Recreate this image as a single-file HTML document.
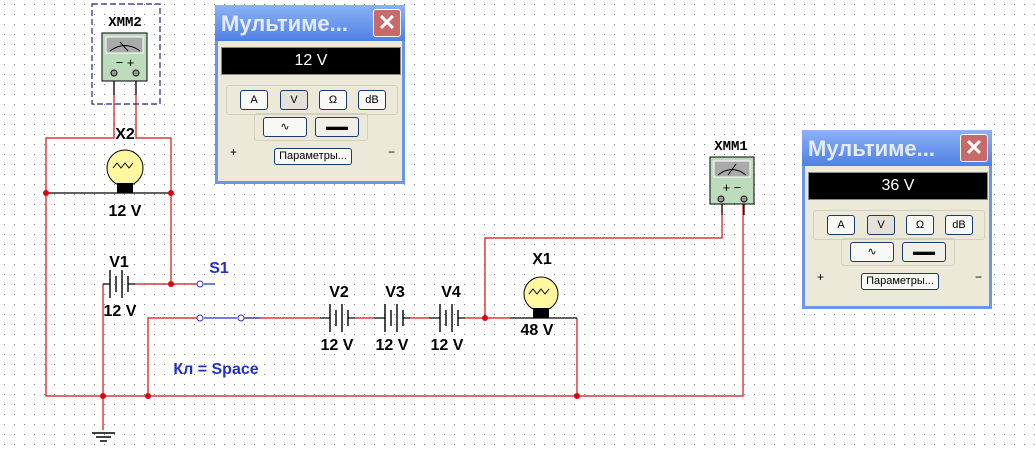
<!DOCTYPE html>
<html><head><meta charset="utf-8"><style>
body{margin:0;width:1035px;height:451px;overflow:hidden;background:#fff;font-family:"Liberation Sans",sans-serif}
svg{position:absolute;left:0;top:0}
.win{position:absolute;width:190px;height:179px;background:#ece9d8;border:3px solid #6b95e8;border-top:none;box-sizing:border-box}
.tb{position:absolute;left:-3px;top:0;width:190px;height:36px;background:linear-gradient(#8cb2f6,#4f80e4);color:#e4ecfc;font:bold 22px "Liberation Sans",sans-serif;padding:6px 0 0 6px;box-sizing:border-box}
.x{position:absolute;right:4px;top:4px;width:26px;height:26px;background:#c86a6a;border:1px solid #fff;border-radius:3px;color:#fff;font:bold 22px sans-serif;text-align:center;line-height:26px}
.disp{position:absolute;left:3px;top:42px;width:178px;height:26px;background:#000;color:#fff;font-size:16px;text-align:center;line-height:26px;border:1px solid #888}
.grp{position:absolute;border:1px solid #d4d0c0;border-radius:3px}
.b{position:absolute;height:18px;border:1px solid #1c3a70;border-radius:3px;background:#f8f8f4;font-size:11px;text-align:center;line-height:18px}
</style></head><body>
<svg width="1035" height="451">
<defs><pattern id="g" width="10" height="10" patternUnits="userSpaceOnUse"><rect x="4" y="4" width="1" height="1" fill="#777"/></pattern></defs>
<rect width="1035" height="451" fill="url(#g)"/>
<g fill="none" stroke-width="1.2">
<rect x="92" y="4" width="68" height="100" stroke="#1c2a80" stroke-dasharray="6,3"/>
<path d="M114 73V138H46V396H743V200 M136 73V138H171V284H200 M171 193V284 M103 284V396V430 M148 396V318H200 M241 318H320 M485 318V238H722V200 M577 318V396 M135 284H171 M355 318H374 M410 318H429 M465 318H510" stroke="#d01010"/>
<path d="M114 73V95 M136 73V95 M722 200V215 M744 200V215 M46 193H171 M510 318H577 M103 284H110 M128 284H135 M320 318H330 M348 318H355 M374 318H385 M403 318H410 M429 318H440 M458 318H465" stroke="#000"/>
<path d="M204 284H215 M204 318H237 M245 318H260" stroke="#2030c0"/>
</g>
<g fill="#fff" stroke="#2030c0"><circle cx="200" cy="284" r="3"/><circle cx="200" cy="318" r="3"/><circle cx="241" cy="318" r="3"/></g>
<g fill="#e00010"><circle cx="46" cy="193" r="3"/><circle cx="171" cy="193" r="3"/><circle cx="171" cy="284" r="3"/><circle cx="103" cy="396" r="3"/><circle cx="148" cy="396" r="3"/><circle cx="485" cy="318" r="3"/><circle cx="577" cy="396" r="3"/></g>
<g stroke="#000" stroke-width="1.4">
<path d="M110 270V298 M116 276V292 M122 270V298 M128 276V292"/>
<path d="M330 304V332 M336 310V326 M342 304V332 M348 310V326"/>
<path d="M385 304V332 M391 310V326 M397 304V332 M403 310V326"/>
<path d="M440 304V332 M446 310V326 M452 304V332 M458 310V326"/>
<path d="M92 433H115 M96 437H111 M100 441H107"/>
</g>
<g><circle cx="125" cy="168" r="18" fill="#fff8a0" stroke="#000"/><rect x="117" y="183" width="16" height="10"/><path d="M113 168l4-5 4 5 4-5 4 5 4-5" fill="none" stroke="#000"/></g>
<g><circle cx="541" cy="294" r="17" fill="#fff8a0" stroke="#000"/><rect x="533" y="308" width="16" height="10"/><path d="M529 294l4-5 4 5 4-5 4 5 4-5" fill="none" stroke="#000"/></g>
<g stroke="#000"><rect x="102" y="33" width="45" height="48" fill="#bcdcbc"/><rect x="106" y="37" width="37" height="16" fill="#aaa" stroke="#fff"/>
<rect x="710" y="157" width="44" height="47" fill="#bcdcbc"/><rect x="714" y="161" width="36" height="16" fill="#aaa" stroke="#fff"/>
<path d="M110 51Q125 40 140 51M120 42L128 51M718 175Q732 164 746 175M728 175L736 164" fill="none"/>
<g fill="#999"><circle cx="114" cy="73" r="3"/><circle cx="136" cy="73" r="3"/><circle cx="721" cy="199" r="3"/><circle cx="744" cy="199" r="3"/></g></g>
<g font-family="Liberation Sans" font-weight="bold" font-size="16" text-anchor="middle">
<text x="125" y="26" font-family="Liberation Mono" font-size="14">XMM2</text>
<text x="731" y="150" font-family="Liberation Mono" font-size="14">XMM1</text>
<text x="125" y="67" font-size="13" font-weight="normal">−  +</text>
<text x="732" y="192" font-size="13" font-weight="normal">+  −</text>
<text x="125" y="139">X2</text><text x="125" y="216">12 V</text>
<text x="119" y="267">V1</text><text x="120" y="316">12 V</text>
<text x="339" y="297">V2</text><text x="395" y="297">V3</text><text x="451" y="297">V4</text>
<text x="337" y="350">12 V</text><text x="392" y="350">12 V</text><text x="447" y="350">12 V</text>
<text x="542" y="264">X1</text><text x="537" y="335">48 V</text>
<text x="219" y="273" fill="#2030c0">S1</text>
<text x="216" y="374" fill="#2030c0">Кл = Space</text>
</g>
</svg>
<div class="win" style="left:215px;top:5px"><div class="tb">Мультиме...<div class="x">✕</div></div><div class="disp">12 V</div>
<div class="grp" style="left:8px;top:80px;width:170px;height:28px"></div>
<div class="b" style="left:22px;top:85px;width:26px">A</div><div class="b" style="left:62px;top:85px;width:26px;background:#e4e2d8">V</div><div class="b" style="left:101px;top:85px;width:26px">Ω</div><div class="b" style="left:140px;top:85px;width:26px">dB</div>
<div class="grp" style="left:36px;top:108px;width:112px;height:26px"></div>
<div class="b" style="left:45px;top:112px;width:42px">∿</div><div class="b" style="left:97px;top:112px;width:42px;background:#f0efe8">▬▬</div>
<div class="b" style="left:56px;top:143px;width:76px;height:15px;line-height:15px">Параметры...</div>
<div style="position:absolute;left:12px;top:140px;font-size:12px">+</div><div style="position:absolute;left:170px;top:140px;font-size:12px">−</div></div>
<div class="win" style="left:802px;top:130px"><div class="tb">Мультиме...<div class="x">✕</div></div><div class="disp">36 V</div>
<div class="grp" style="left:8px;top:80px;width:170px;height:28px"></div>
<div class="b" style="left:22px;top:85px;width:26px">A</div><div class="b" style="left:62px;top:85px;width:26px;background:#e4e2d8">V</div><div class="b" style="left:101px;top:85px;width:26px">Ω</div><div class="b" style="left:140px;top:85px;width:26px">dB</div>
<div class="grp" style="left:36px;top:108px;width:112px;height:26px"></div>
<div class="b" style="left:45px;top:112px;width:42px">∿</div><div class="b" style="left:97px;top:112px;width:42px;background:#f0efe8">▬▬</div>
<div class="b" style="left:56px;top:143px;width:76px;height:15px;line-height:15px">Параметры...</div>
<div style="position:absolute;left:12px;top:140px;font-size:12px">+</div><div style="position:absolute;left:170px;top:140px;font-size:12px">−</div></div>
</body></html>
